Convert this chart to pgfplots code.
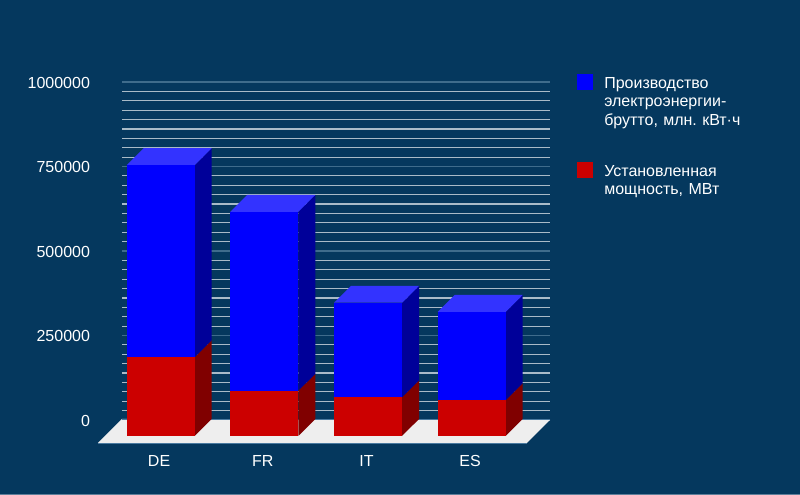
\documentclass[border=0pt]{standalone}
\usepackage{pgfplots}
\pgfplotsset{compat=1.18}
\usepackage{fontspec}
\setmainfont{Liberation Sans}
\frenchspacing
\definecolor{bg}{HTML}{05385E}
\definecolor{bottomline}{HTML}{5F7F9A}
\definecolor{gridminor}{HTML}{A9BBC8}
\definecolor{gridmajor}{HTML}{3F6C8C}
\definecolor{floorc}{HTML}{EEEEEE}
\definecolor{edgec}{HTML}{4A7AA0}
\definecolor{bluef}{HTML}{0000FF}
\definecolor{bluet}{HTML}{3333FF}
\definecolor{blues}{HTML}{000099}
\definecolor{redf}{HTML}{CC0000}
\definecolor{reds}{HTML}{800000}
\begin{document}
\begin{tikzpicture}[x=0.75pt,y=0.75pt]
\fill[bg] (0,0) rectangle (800,495);
\fill[bottomline] (0,0) rectangle (800,1);
\path[use as bounding box] (0,0) rectangle (800,495);
\begin{axis}[
  at={(91.5pt,56.25pt)}, anchor=south west,
  scale only axis, width=321pt, height=253.5pt,
  clip=false,
  xmin=-0.373, xmax=3.755, ymin=0, ymax=1000000,
  xtick={0,1,2,3}, xticklabels={DE,FR,IT,ES},
  ytick={0,250000,500000,750000,1000000},
  minor y tick num=8,
  scaled y ticks=false,
  /pgf/number format/fixed,
  /pgf/number format/1000 sep={},
  /pgf/number format/assume math mode=true,
  ymajorgrids, yminorgrids, 
  major grid style={draw=gridmajor,line width=0.9pt},
  minor grid style={draw=gridminor,line width=0.9pt},
  axis line style={draw=none},
  major tick length=0pt, minor tick length=0pt,
  tick style={draw=none},
  tick label style={text=white,font=\fontsize{12pt}{14pt}\selectfont},
  x tick label style={yshift=-23pt,xshift=-1.2pt},
  y tick label style={xshift=-20.5pt,yshift=-0.5pt},
]
% floor
\addplot[fill=floorc,draw=none] coordinates {(-0.373,3000) (3.755,0) (3.533,-68000) (-0.605,-68000)} -- cycle;
\addplot[edgec,line width=0.75pt] coordinates {(-0.373,1000) (3.755,1000)};
\addplot[edgec,line width=0.75pt] coordinates {(-0.605,-69500) (3.533,-69500)};
% DE
\addplot[fill=reds,draw=none] coordinates {(0.328,-47000) (0.492,3000) (0.492,236000) (0.328,186000)} -- cycle;
\addplot[fill=blues,draw=none] coordinates {(0.328,186000) (0.492,236000) (0.492,804000) (0.328,754000)} -- cycle;
\addplot[fill=bluet,draw=none] coordinates {(-0.328,754000) (0.328,754000) (0.492,804000) (-0.164,804000)} -- cycle;
\addplot[fill=redf,draw=none] coordinates {(-0.328,-47000) (0.328,-47000) (0.328,186000) (-0.328,186000)} -- cycle;
\addplot[fill=bluef,draw=none] coordinates {(-0.328,186000) (0.328,186000) (0.328,754000) (-0.328,754000)} -- cycle;
% FR
\addplot[fill=reds,draw=none] coordinates {(1.328,-47000) (1.492,3000) (1.492,137000) (1.328,87000)} -- cycle;
\addplot[fill=blues,draw=none] coordinates {(1.328,87000) (1.492,137000) (1.492,666000) (1.328,616000)} -- cycle;
\addplot[fill=bluet,draw=none] coordinates {(0.672,616000) (1.328,616000) (1.492,666000) (0.836,666000)} -- cycle;
\addplot[fill=redf,draw=none] coordinates {(0.672,-47000) (1.328,-47000) (1.328,87000) (0.672,87000)} -- cycle;
\addplot[fill=bluef,draw=none] coordinates {(0.672,87000) (1.328,87000) (1.328,616000) (0.672,616000)} -- cycle;
% IT
\addplot[fill=reds,draw=none] coordinates {(2.328,-47000) (2.492,3000) (2.492,117000) (2.328,67000)} -- cycle;
\addplot[fill=blues,draw=none] coordinates {(2.328,67000) (2.492,117000) (2.492,397000) (2.328,347000)} -- cycle;
\addplot[fill=bluet,draw=none] coordinates {(1.672,347000) (2.328,347000) (2.492,397000) (1.836,397000)} -- cycle;
\addplot[fill=redf,draw=none] coordinates {(1.672,-47000) (2.328,-47000) (2.328,67000) (1.672,67000)} -- cycle;
\addplot[fill=bluef,draw=none] coordinates {(1.672,67000) (2.328,67000) (2.328,347000) (1.672,347000)} -- cycle;
% ES
\addplot[fill=reds,draw=none] coordinates {(3.328,-47000) (3.492,3000) (3.492,109000) (3.328,59000)} -- cycle;
\addplot[fill=blues,draw=none] coordinates {(3.328,59000) (3.492,109000) (3.492,370000) (3.328,320000)} -- cycle;
\addplot[fill=bluet,draw=none] coordinates {(2.672,320000) (3.328,320000) (3.492,370000) (2.836,370000)} -- cycle;
\addplot[fill=redf,draw=none] coordinates {(2.672,-47000) (3.328,-47000) (3.328,59000) (2.672,59000)} -- cycle;
\addplot[fill=bluef,draw=none] coordinates {(2.672,59000) (3.328,59000) (3.328,320000) (2.672,320000)} -- cycle;
\end{axis}
% legend
\fill[bluef] (576.5,404.5) rectangle (592.7,420.5);
\fill[redf] (576.5,316.5) rectangle (592.7,332.5);
\node[anchor=north west,inner sep=0pt,text=white,font=\fontsize{12pt}{14pt}\selectfont,align=left,text width=160pt] at (604,418) {Производство\\электроэнергии-\\брутто, млн. кВт·ч};
\node[anchor=north west,inner sep=0pt,text=white,font=\fontsize{12pt}{14pt}\selectfont,align=left,text width=160pt] at (604,330) {Установленная\\мощность, МВт};
\end{tikzpicture}
\end{document}
